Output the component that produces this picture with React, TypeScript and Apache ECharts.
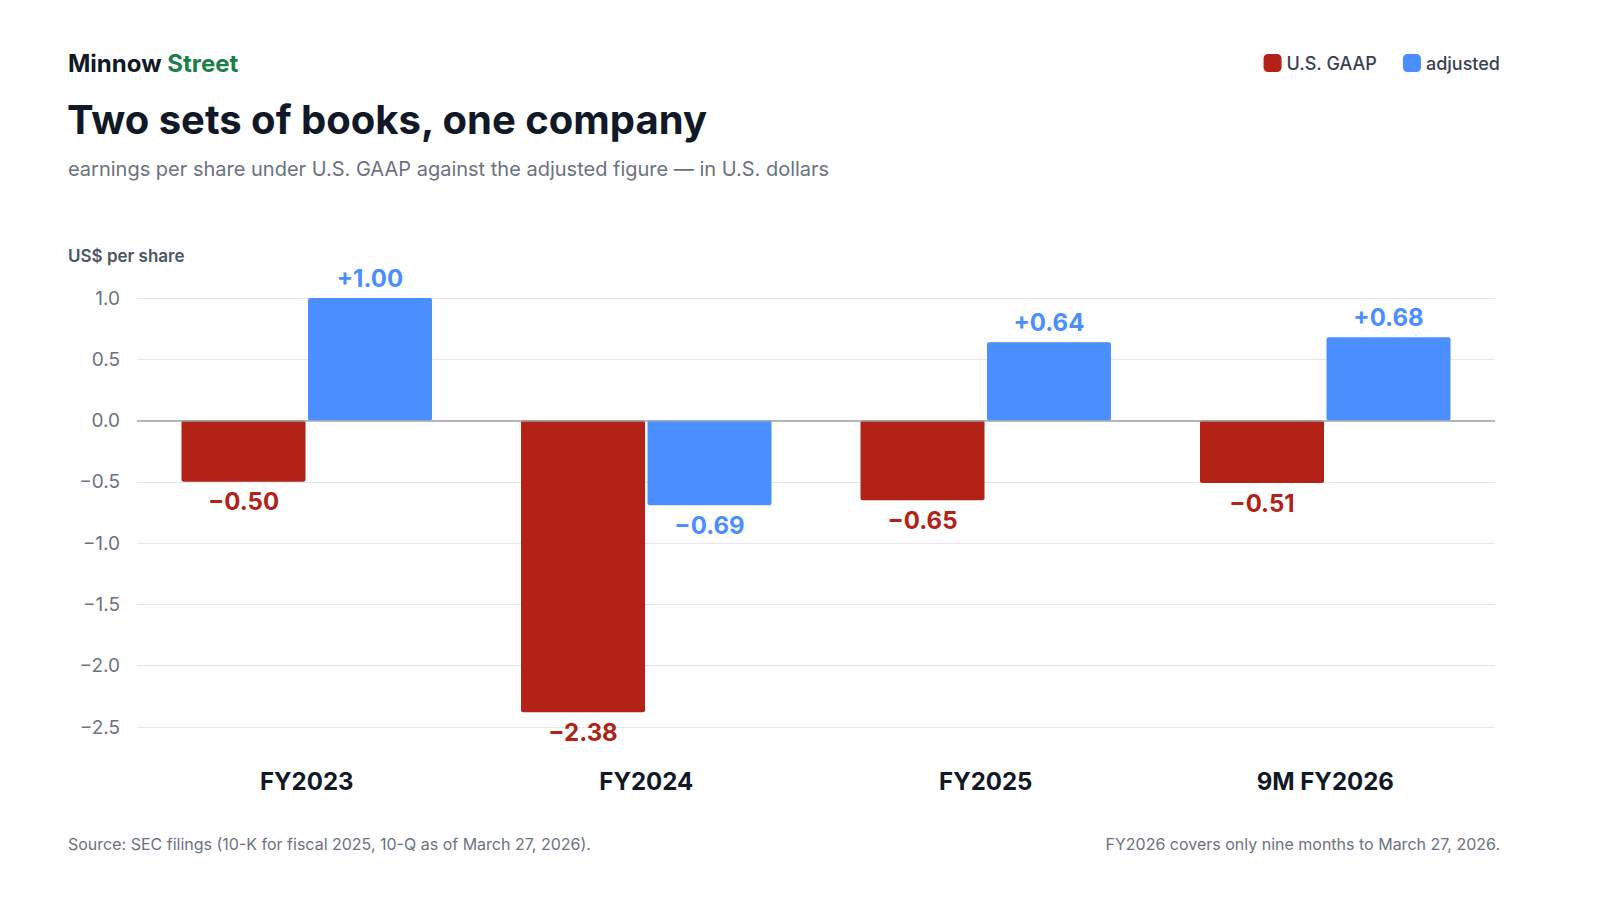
import React, { useEffect, useRef } from "react";
import * as echarts from "echarts";

const categories = ["FY2023", "FY2024", "FY2025", "9M FY2026"];
const gaap = [-0.5, -2.38, -0.65, -0.51];
const adjusted = [1.0, -0.69, 0.64, 0.68];
const yTicks = [-2.5, -2.0, -1.5, -1.0, -0.5, 0.0, 0.5, 1.0];

const RED = "#B22217";
const BLUE = "#4A8EFF";
const F = "Inter, 'Noto Sans', sans-serif";

const fmt = (v: number) => (v > 0 ? "+" : v < 0 ? "\u2212" : "") + Math.abs(v).toFixed(2);

export default function App() {
  const ref = useRef<HTMLDivElement>(null);
  useEffect(() => {
    const chart = echarts.init(ref.current!, null, { renderer: "svg" });
    const lbl = (color: string) => ({
      show: true,
      color,
      fontFamily: F,
      fontWeight: "bold" as const,
      fontSize: 24,
      distance: 8,
      formatter: (p: any) => fmt(p.value),
      position: "top" as const,
    });
    const mk = (arr: number[], color: string) =>
      arr.map((v) => ({
        value: v,
        label: { ...lbl(color), position: v >= 0 ? "top" : "bottom" },
      }));
    chart.setOption({
      animation: false,
      textStyle: { fontFamily: F },
      title: [
        { text: "{a|Minnow }{b|Street}", left: 63, top: 46, textStyle: { rich: { a: { fontSize: 24, fontWeight: "bold", color: "#111827", fontFamily: F }, b: { fontSize: 24, fontWeight: "bold", color: "#1A7F4B", fontFamily: F } } } },
        { text: "Two sets of books, one company", left: 62, top: 94, textStyle: { fontSize: 40, fontWeight: "bold", color: "#111827", fontFamily: F, letterSpacing: -1 } },
        { text: "earnings per share under U.S. GAAP against the adjusted figure \u2014 in U.S. dollars", left: 63, top: 154, textStyle: { fontSize: 20, fontWeight: "normal", color: "#6B7280", fontFamily: F } },
        { text: "US$ per share", left: 63, top: 242, textStyle: { fontSize: 17, fontWeight: 600, color: "#4B5563", fontFamily: F } },
        { text: "Source: SEC filings (10-K for fiscal 2025, 10-Q as of March 27, 2026).", left: 63, top: 831, textStyle: { fontSize: 16, fontWeight: "normal", color: "#6B7280", fontFamily: F } },
        { text: "FY2026 covers only nine months to March 27, 2026.", right: 95, top: 831, textStyle: { fontSize: 16, fontWeight: "normal", color: "#6B7280", fontFamily: F } },
      ],
      legend: {
        right: 95, top: 49, itemWidth: 18, itemHeight: 18, itemGap: 26,
        icon: "roundRect",
        textStyle: { fontSize: 18, fontWeight: 500, color: "#374151", fontFamily: F },
        data: ["U.S. GAAP", "adjusted"],
      },
      grid: { left: 137, right: 105, top: 298, bottom: 173 },
      xAxis: {
        type: "category", data: categories,
        axisLine: { show: false }, axisTick: { show: false },
        axisLabel: { margin: 42, fontSize: 24, fontWeight: "bold", color: "#111827", fontFamily: F },
      },
      yAxis: {
        type: "value", min: -2.5, max: 1.0, interval: 0.5,
        axisLabel: { fontSize: 19, color: "#6B7280", margin: 17, fontFamily: F,
          formatter: (v: number) => (v < 0 ? "\u2212" : "") + Math.abs(v).toFixed(1) },
        splitLine: { lineStyle: { color: "#E5E7EB" } },
      },
      series: [
        { name: "U.S. GAAP", type: "bar", data: mk(gaap, RED), barWidth: 124, barGap: "2%",
          itemStyle: { color: RED, borderRadius: 2 },
          markLine: { silent: true, symbol: "none", label: { show: false }, lineStyle: { color: "#9CA3AF", type: "solid", width: 1.5 }, data: [{ yAxis: 0 }] } },
        { name: "adjusted", type: "bar", data: mk(adjusted, BLUE), barWidth: 124,
          itemStyle: { color: BLUE, borderRadius: 2 } },
      ],
    });
    return () => chart.dispose();
  }, []);
  return <div ref={ref} style={{ width: 1600, height: 900, margin: -8 }} />;
}
